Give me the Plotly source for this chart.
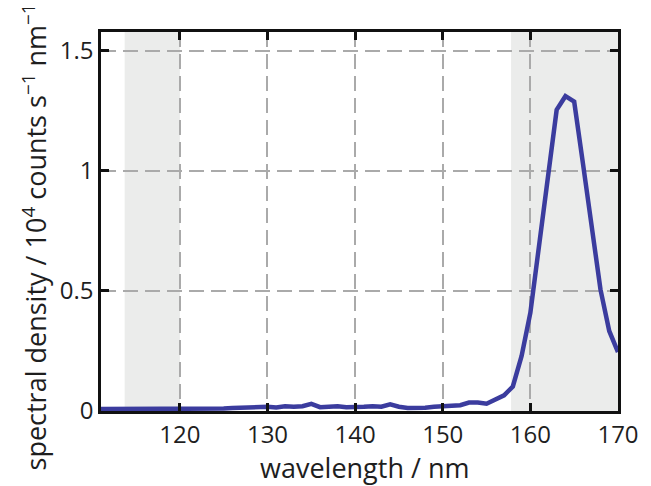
import plotly.graph_objects as go

wavelength_nm = list(range(111, 171))
spectral_density = [
    0.008, 0.008, 0.007, 0.007, 0.008, 0.009, 0.010, 0.008, 0.007, 0.006,
    0.006, 0.006, 0.007, 0.008, 0.010, 0.012, 0.014, 0.016, 0.018, 0.018,
    0.015, 0.020, 0.018, 0.020, 0.030, 0.016, 0.018, 0.020, 0.016, 0.015,
    0.018, 0.020, 0.018, 0.028, 0.018, 0.013, 0.012, 0.014, 0.018, 0.020,
    0.020, 0.024, 0.035, 0.035, 0.030, 0.050, 0.065, 0.102, 0.229, 0.409,
    0.690, 0.970, 1.253, 1.310, 1.287, 1.030, 0.770, 0.506, 0.333, 0.245,
]
shaded_bands = [(113.7, 120.0), (157.8, 170.0)]
x_ticks = [120, 130, 140, 150, 160, 170]
y_ticks = [0, 0.5, 1, 1.5]
y_tick_labels = ["0", "0.5", "1", "1.5"]
x_title = "wavelength / nm"
y_title = "spectral density / 10<sup>4</sup> counts s<sup>−1</sup> nm<sup>−1</sup>"

FONT = "Open Sans"
TXT = "#1e1e1e"

fig = go.Figure()
fig.add_trace(go.Scatter(
    x=wavelength_nm, y=spectral_density, mode="lines",
    line=dict(color="#3b3c9e", width=4.5), hoverinfo="skip",
))

for x0, x1 in shaded_bands:
    fig.add_shape(type="rect", xref="x", yref="paper", x0=x0, x1=x1, y0=0, y1=1,
                  fillcolor="#ebeceb", line=dict(width=0), layer="below")

axis_common = dict(
    showline=True, linecolor="#111111", linewidth=2.5, mirror="ticks",
    ticks="inside", ticklen=8, tickwidth=2.5, tickcolor="#111111",
    showgrid=True, gridcolor="#aaaaaa", gridwidth=1.5, griddash="15px,7px",
    zeroline=False, tickfont=dict(family=FONT, size=24, color=TXT),
    automargin=False,
)

fig.update_xaxes(range=[111, 170], tickvals=x_ticks, **axis_common)
fig.update_yaxes(range=[0, 1.577], tickvals=y_ticks, ticktext=y_tick_labels, **axis_common)

fig.add_annotation(text=x_title, xref="paper", yref="paper", x=0.509, y=-0.15,
                   xanchor="center", yanchor="middle", showarrow=False,
                   font=dict(family=FONT, size=27, color=TXT))
fig.add_annotation(text=y_title, xref="paper", yref="paper", x=-0.128, y=0.46,
                   xanchor="center", yanchor="middle", textangle=-90, showarrow=False,
                   font=dict(family=FONT, size=27, color=TXT))

# page body has an 8px default margin; offsets below compensate
fig.update_layout(
    width=651, height=486,
    margin=dict(l=93, r=41, t=24, b=83),
    plot_bgcolor="white", paper_bgcolor="white",
    showlegend=False,
)

fig.write_html("out.html")
